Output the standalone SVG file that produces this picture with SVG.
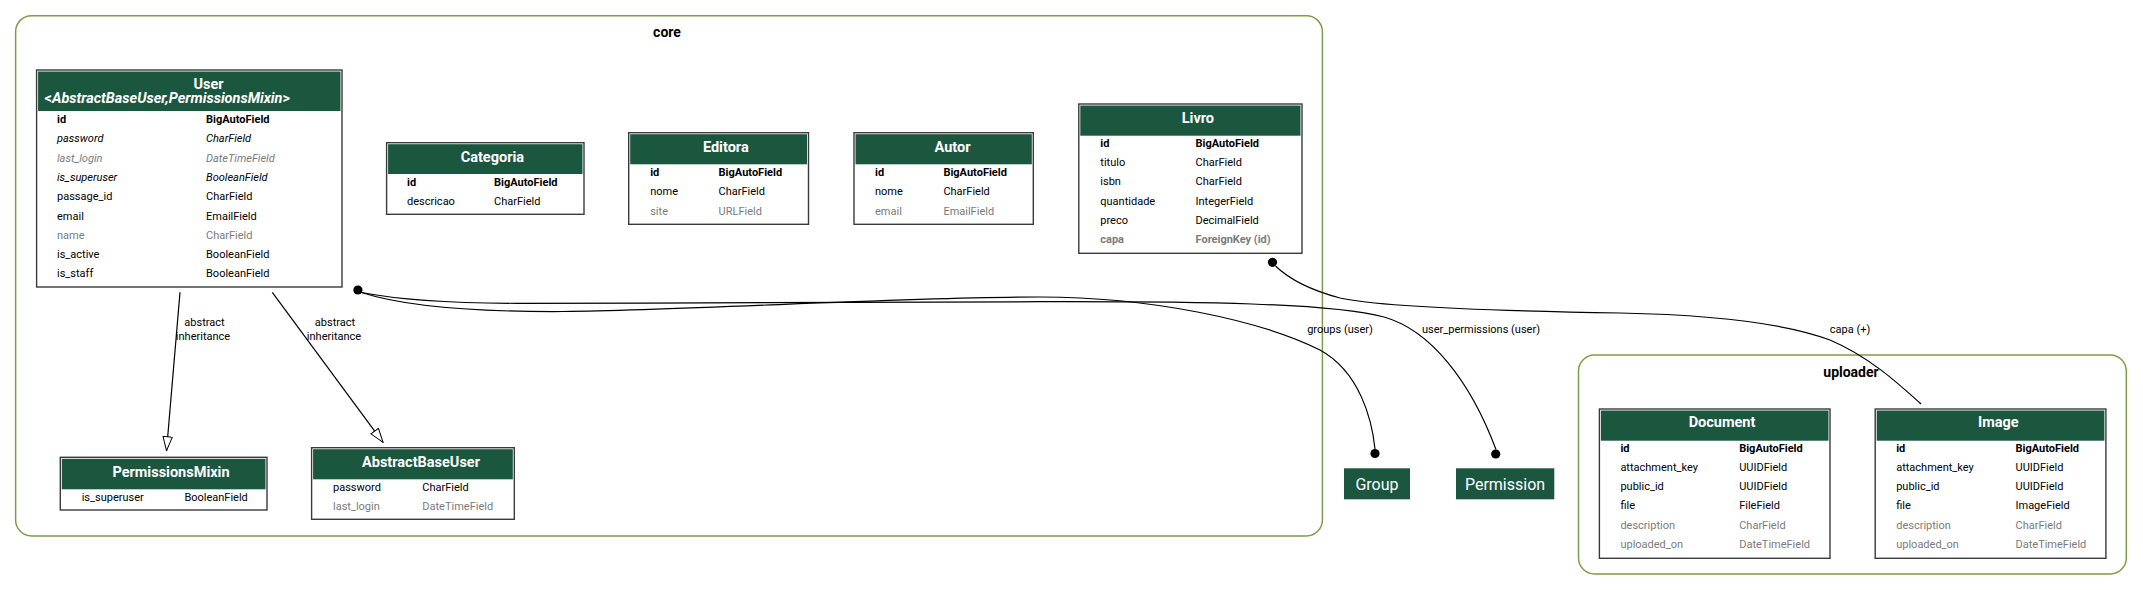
<svg xmlns="http://www.w3.org/2000/svg" width="2143" height="590" viewBox="0 0 2143 590">
<style>
text{font-family:Roboto,"Liberation Sans",sans-serif}
.cl{fill:none;stroke:#7f9c48;stroke-width:1.5}
.cll{font-size:14px;font-weight:bold;text-anchor:middle;fill:#000}
.box{fill:#fff;stroke:#3a3a3a;stroke-width:1.4}
.hdr{fill:#1b563f}
.t{font-size:14.5px;font-weight:bold;fill:#fff;text-anchor:middle}
.f{font-size:11px;fill:#000}
.b{font-weight:bold}
.g{fill:#7b7b7b}
.i{font-style:italic}
.ext{fill:#1b563f}
.et{font-size:16px;fill:#fff;text-anchor:middle}
.e{fill:none;stroke:#000;stroke-width:1.2}
.dot{fill:#000}
.el{font-size:11px;fill:#000;text-anchor:middle}
</style>
<defs>
<marker id="inh" viewBox="0 0 15 11" refX="14.5" refY="5.5" markerWidth="15" markerHeight="11" markerUnits="userSpaceOnUse" orient="auto">
<path d="M0.5,0.8 L14.5,5.5 L0.5,10.2 Z" fill="#fff" stroke="#000" stroke-width="1"/>
</marker>
</defs>

<g id="cluster_core">
<rect class="cl" x="15.6" y="15.7" width="1306.8" height="520.3" rx="16" ry="16"/>
<text class="cll" x="667" y="37">core</text>
</g>
<g id="cluster_uploader">
<rect class="cl" x="1578.5" y="355" width="547.8" height="219" rx="16" ry="16"/>
<text class="cll" x="1851" y="376.7">uploader</text>
</g>

<g id="connectors">
<path class="e" d="M180,292.3 L166.5,450.7" marker-end="url(#inh)"/>
<text class="el" x="204.5" y="326">abstract</text>
<text class="el" x="203" y="340">inheritance</text>
<path class="e" d="M272.3,292.3 L383,442.3" marker-end="url(#inh)"/>
<text class="el" x="335" y="326">abstract</text>
<text class="el" x="334" y="340">inheritance</text>
<circle class="dot" cx="357.9" cy="290" r="4.6"/>
<path class="e" d="M361.5,292.5 C400,305 470,312 563,311.5 C700,310 900,297 1040,297 C1150,297 1260,320 1320,350 C1360,372 1372,420 1375,449"/>
<circle class="dot" cx="1375" cy="453.5" r="4.6"/>
<text class="el" x="1340" y="332.7">groups (user)</text>
<path class="e" d="M361.5,292.5 C400,300 450,303.3 518,303.3 C700,303.3 900,302 1040,301.7 C1200,301.4 1330,303 1384,317 C1430,330 1470,380 1496,449.5"/>
<circle class="dot" cx="1495.7" cy="454" r="4.6"/>
<text class="el" x="1481" y="332.7">user_permissions (user)</text>
<circle class="dot" cx="1272.5" cy="262.3" r="4.6"/>
<path class="e" d="M1275.5,266 C1290,280 1310,290 1340,298 C1380,307 1500,311 1620,313 C1720,315 1790,325 1830,340 C1870,357 1900,385 1921,404"/>
<text class="el" x="1850" y="332.7">capa (+)</text>
</g>

<g id="User">
<rect class="box" x="36.6" y="70" width="305.4" height="217"/>
<rect class="hdr" x="38.1" y="71.5" width="302.4" height="39.5"/>
<text class="t" x="208.5" y="89">User</text>
<text class="t" x="44.6" y="102.5" style="text-anchor:start">&lt;<tspan font-style="italic">AbstractBaseUser,PermissionsMixin</tspan>&gt;</text>
<text class="f b" x="57" y="123">id</text><text class="f b" x="206" y="123">BigAutoField</text>
<text class="f i" x="57" y="142.3">password</text><text class="f i" x="206" y="142.3">CharField</text>
<text class="f i g" x="57" y="161.6">last_login</text><text class="f i g" x="206" y="161.6">DateTimeField</text>
<text class="f i" x="57" y="180.9">is_superuser</text><text class="f i" x="206" y="180.9">BooleanField</text>
<text class="f" x="57" y="200.2">passage_id</text><text class="f" x="206" y="200.2">CharField</text>
<text class="f" x="57" y="219.5">email</text><text class="f" x="206" y="219.5">EmailField</text>
<text class="f g" x="57" y="238.8">name</text><text class="f g" x="206" y="238.8">CharField</text>
<text class="f" x="57" y="258.1">is_active</text><text class="f" x="206" y="258.1">BooleanField</text>
<text class="f" x="57" y="277.4">is_staff</text><text class="f" x="206" y="277.4">BooleanField</text>
</g>

<g id="Categoria">
<rect class="box" x="386.6" y="142.7" width="197.4" height="71.6"/>
<rect class="hdr" x="388.1" y="144.2" width="194.4" height="29.8"/>
<text class="t" x="492.4" y="161.7">Categoria</text>
<text class="f b" x="407" y="185.7">id</text><text class="f b" x="494" y="185.7">BigAutoField</text>
<text class="f" x="407" y="205">descricao</text><text class="f" x="494" y="205">CharField</text>
</g>

<g id="Editora">
<rect class="box" x="628.7" y="132.7" width="179.8" height="91.6"/>
<rect class="hdr" x="630.2" y="134.2" width="176.8" height="30.1"/>
<text class="t" x="725.8" y="151.7">Editora</text>
<text class="f b" x="650.2" y="176">id</text><text class="f b" x="718.6" y="176">BigAutoField</text>
<text class="f" x="650.2" y="195.3">nome</text><text class="f" x="718.6" y="195.3">CharField</text>
<text class="f g" x="650.2" y="214.6">site</text><text class="f g" x="718.6" y="214.6">URLField</text>
</g>

<g id="Autor">
<rect class="box" x="854" y="132.7" width="179.3" height="91.6"/>
<rect class="hdr" x="855.5" y="134.2" width="176.3" height="30.1"/>
<text class="t" x="952.5" y="151.7">Autor</text>
<text class="f b" x="875" y="176">id</text><text class="f b" x="943.4" y="176">BigAutoField</text>
<text class="f" x="875" y="195.3">nome</text><text class="f" x="943.4" y="195.3">CharField</text>
<text class="f g" x="875" y="214.6">email</text><text class="f g" x="943.4" y="214.6">EmailField</text>
</g>

<g id="Livro">
<rect class="box" x="1078.8" y="104" width="223.2" height="149.3"/>
<rect class="hdr" x="1080.3" y="105.5" width="220.2" height="30.2"/>
<text class="t" x="1197.9" y="123.3">Livro</text>
<text class="f b" x="1100.3" y="146.7">id</text><text class="f b" x="1195.5" y="146.7">BigAutoField</text>
<text class="f" x="1100.3" y="166">titulo</text><text class="f" x="1195.5" y="166">CharField</text>
<text class="f" x="1100.3" y="185.3">isbn</text><text class="f" x="1195.5" y="185.3">CharField</text>
<text class="f" x="1100.3" y="204.6">quantidade</text><text class="f" x="1195.5" y="204.6">IntegerField</text>
<text class="f" x="1100.3" y="223.9">preco</text><text class="f" x="1195.5" y="223.9">DecimalField</text>
<text class="f b g" x="1100.3" y="243.2">capa</text><text class="f b g" x="1195.5" y="243.2">ForeignKey (id)</text>
</g>

<g id="PermissionsMixin">
<rect class="box" x="60.3" y="457.3" width="206.7" height="52.7"/>
<rect class="hdr" x="61.8" y="458.8" width="203.7" height="30.5"/>
<text class="t" x="171" y="476.7">PermissionsMixin</text>
<text class="f" x="81.7" y="500.5">is_superuser</text><text class="f" x="184.4" y="500.5">BooleanField</text>
</g>

<g id="AbstractBaseUser">
<rect class="box" x="311.6" y="447.7" width="202.7" height="71.6"/>
<rect class="hdr" x="313.1" y="449.2" width="199.7" height="30.1"/>
<text class="t" x="421" y="466.7">AbstractBaseUser</text>
<text class="f" x="333" y="490.7">password</text><text class="f" x="422.3" y="490.7">CharField</text>
<text class="f g" x="333" y="510">last_login</text><text class="f g" x="422.3" y="510">DateTimeField</text>
</g>

<g id="Group">
<rect class="ext" x="1344" y="468.3" width="66" height="31"/>
<text class="et" x="1377" y="489.5">Group</text>
</g>

<g id="Permission">
<rect class="ext" x="1456" y="468.3" width="98.3" height="31"/>
<text class="et" x="1505" y="489.5">Permission</text>
</g>

<g id="Document">
<rect class="box" x="1599.4" y="409" width="230.6" height="149.3"/>
<rect class="hdr" x="1600.9" y="410.5" width="227.6" height="30.2"/>
<text class="t" x="1722" y="427.3">Document</text>
<text class="f b" x="1620.4" y="451.5">id</text><text class="f b" x="1739.2" y="451.5">BigAutoField</text>
<text class="f" x="1620.4" y="470.8">attachment_key</text><text class="f" x="1739.2" y="470.8">UUIDField</text>
<text class="f" x="1620.4" y="490.1">public_id</text><text class="f" x="1739.2" y="490.1">UUIDField</text>
<text class="f" x="1620.4" y="509.4">file</text><text class="f" x="1739.2" y="509.4">FileField</text>
<text class="f g" x="1620.4" y="528.7">description</text><text class="f g" x="1739.2" y="528.7">CharField</text>
<text class="f g" x="1620.4" y="548">uploaded_on</text><text class="f g" x="1739.2" y="548">DateTimeField</text>
</g>

<g id="Image">
<rect class="box" x="1875.2" y="409" width="230.7" height="149.3"/>
<rect class="hdr" x="1876.7" y="410.5" width="227.7" height="30.2"/>
<text class="t" x="1998.3" y="427.3">Image</text>
<text class="f b" x="1896.2" y="451.5">id</text><text class="f b" x="2015.5" y="451.5">BigAutoField</text>
<text class="f" x="1896.2" y="470.8">attachment_key</text><text class="f" x="2015.5" y="470.8">UUIDField</text>
<text class="f" x="1896.2" y="490.1">public_id</text><text class="f" x="2015.5" y="490.1">UUIDField</text>
<text class="f" x="1896.2" y="509.4">file</text><text class="f" x="2015.5" y="509.4">ImageField</text>
<text class="f g" x="1896.2" y="528.7">description</text><text class="f g" x="2015.5" y="528.7">CharField</text>
<text class="f g" x="1896.2" y="548">uploaded_on</text><text class="f g" x="2015.5" y="548">DateTimeField</text>
</g>
</svg>
